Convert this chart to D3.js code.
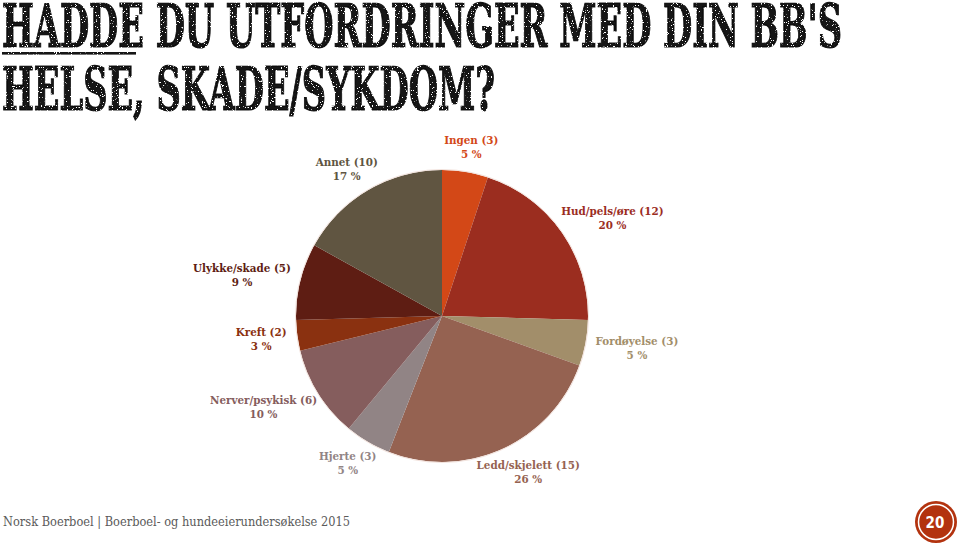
<!DOCTYPE html>
<html>
<head>
<meta charset="utf-8">
<script src="https://cdn.jsdelivr.net/npm/d3@7/dist/d3.min.js"></script>
<style>
  html, body { margin: 0; padding: 0; background: #ffffff; }
  svg { display: block; }
</style>
</head>
<body>
<svg id="chart" width="960" height="547"></svg>
<script>
const titleLines = ["HADDE DU UTFORDRINGER MED DIN BB'S", "HELSE, SKADE/SYKDOM?"];
const categories = ["Ingen", "Hud/pels/øre", "Fordøyelse", "Ledd/skjelett", "Hjerte", "Nerver/psykisk", "Kreft", "Ulykke/skade", "Annet"];
const counts = [3, 12, 3, 15, 3, 6, 2, 5, 10];
const percents = [5, 20, 5, 26, 5, 10, 3, 9, 17];
const colors = ["#D34817", "#9B2D1F", "#A28E6A", "#956251", "#918485", "#855D5D", "#8A3110", "#5E1D13", "#605541"];
const footerText = "Norsk Boerboel | Boerboel- og hundeeierundersøkelse 2015";
const pageNumber = "20";

const svg = d3.select("#chart");

// light distressed texture for the title
const defs = svg.append("defs");
const f = defs.append("filter").attr("id", "grunge")
  .attr("filterUnits", "userSpaceOnUse").attr("x", 0).attr("y", 0).attr("width", 960).attr("height", 130);
f.append("feTurbulence").attr("type", "fractalNoise").attr("baseFrequency", "0.8").attr("numOctaves", "2").attr("seed", "5").attr("result", "noise");
f.append("feColorMatrix").attr("in", "noise").attr("type", "matrix")
  .attr("values", "0 0 0 0 0  0 0 0 0 0  0 0 0 0 0  0 0 0 -22 15.6").attr("result", "mask");
f.append("feComposite").attr("in", "SourceGraphic").attr("in2", "mask").attr("operator", "in");

// Title
const title = svg.append("g").attr("filter", "url(#grunge)");
const titleLayout = [{y: 47, len: 840}, {y: 110, len: 493}];
titleLines.forEach((t, i) => {
  title.append("text")
    .attr("x", 2).attr("y", titleLayout[i].y)
    .attr("font-family", "'DejaVu Serif Condensed', 'DejaVu Serif', serif")
    .attr("font-weight", "bold")
    .attr("font-size", 60)
    .attr("fill", "#121212")
    .attr("stroke", "#121212")
    .attr("stroke-width", 1.2)
    .attr("textLength", titleLayout[i].len)
    .attr("lengthAdjust", "spacingAndGlyphs")
    .text(t);
});
title.append("rect").attr("x", 2).attr("y", 52).attr("width", 134).attr("height", 2.6).attr("fill", "#121212");

// Pie
const cx = 442, cy = 316, r = 146;
const g = svg.append("g").attr("transform", `translate(${cx},${cy})`);
const data = categories.map((c, i) => ({cat: c, value: counts[i], pct: percents[i], color: colors[i]}));
const pie = d3.pie().value(d => d.value).sort(null).startAngle(0).endAngle(2 * Math.PI);
const arcs = pie(data);
const arc = d3.arc().innerRadius(0).outerRadius(r);

g.selectAll("path.slice").data(arcs).enter().append("path")
  .attr("class", "slice")
  .attr("d", arc)
  .attr("fill", d => d.data.color);

g.append("circle").attr("r", r + 0.5).attr("fill", "none").attr("stroke", "#f2e2dc").attr("stroke-width", 1);

// Labels
const gap = 11;
const lineH = 14;
arcs.forEach(a => {
  const mid = (a.startAngle + a.endAngle) / 2;
  const s = Math.sin(mid), c = -Math.cos(mid);
  const t = g.append("text")
    .attr("font-family", "'DejaVu Serif Condensed', 'DejaVu Serif', serif")
    .attr("font-weight", "bold")
    .attr("font-size", 11.5)
    .attr("fill", a.data.color)
    .attr("text-anchor", "middle");
  t.append("tspan").attr("x", 0).attr("dy", 0).text(`${a.data.cat} (${a.data.value})`);
  t.append("tspan").attr("x", 0).attr("dy", lineH).text(`${a.data.pct} %`);
  const bb = t.node().getBBox();
  const px = (r + gap) * s, py = (r + gap) * c;
  const bx = px + (bb.width / 2) * s;
  const by = py + (bb.height / 2) * c;
  const ox = bb.x + bb.width / 2, oy = bb.y + bb.height / 2;
  t.attr("transform", `translate(${bx - ox},${by - oy})`);
});

// Footer
svg.append("text")
  .attr("x", 3).attr("y", 526)
  .attr("font-family", "'DejaVu Serif', serif")
  .attr("font-size", 12.5)
  .attr("fill", "#5a5a5a")
  .attr("textLength", 347)
  .attr("lengthAdjust", "spacingAndGlyphs")
  .text(footerText);

// Page badge
const badge = svg.append("g").attr("transform", "translate(936,522)");
badge.append("circle").attr("r", 21).attr("fill", "#B3330F");
badge.append("circle").attr("r", 17.5).attr("fill", "none").attr("stroke", "#ffffff").attr("stroke-width", 1.5);
badge.append("text")
  .attr("x", -1).attr("y", 5.5)
  .attr("text-anchor", "middle")
  .attr("font-family", "'DejaVu Sans Condensed', 'DejaVu Sans', sans-serif")
  .attr("font-weight", "bold")
  .attr("font-size", 15)
  .attr("fill", "#ffffff")
  .text(pageNumber);
</script>
</body>
</html>
